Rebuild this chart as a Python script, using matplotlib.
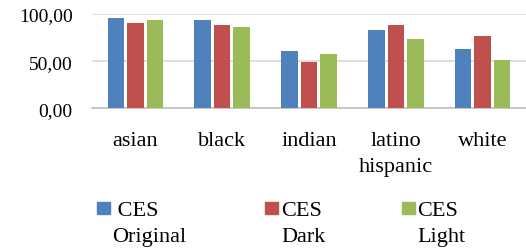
import numpy as np
import matplotlib
matplotlib.use('Agg')
import matplotlib.pyplot as plt
from matplotlib.patches import Rectangle

categories = ['asian', 'black', 'indian', 'latino\nhispanic', 'white']
series_names = [' CES\nOriginal', 'CES\nDark', 'CES\nLight']
ces_original = [95.4, 94.0, 60.4, 82.7, 63.2]
ces_dark = [90.8, 88.3, 48.8, 88.3, 77.0]
ces_light = [94.0, 85.9, 57.6, 73.5, 50.9]
yticks = [0, 50, 100]
ytick_labels = ['0,00', '50,00', '100,00']

colors = ['#4F81BD', '#C0504D', '#9BBB59']

plt.rcParams['font.family'] = ['Liberation Serif', 'DejaVu Serif']
plt.rcParams['font.size'] = 14

W, H = 526, 253
fig = plt.figure(figsize=(W / 100, H / 100), dpi=100)
ax = fig.add_axes([92 / W, 1 - 109.3 / H, 1 - 92 / W, 94.3 / H])

x = np.arange(len(categories))
width = 0.19
step = 0.225
for i, vals in enumerate([ces_original, ces_dark, ces_light]):
    ax.bar(x + (i - 1) * step, vals, width, color=colors[i], zorder=3)

ax.set_xlim(-0.5, len(categories) - 0.5)
ax.set_ylim(0, 100)
ax.set_yticks(yticks)
ax.set_yticklabels(ytick_labels)
ax.set_xticks(x)
ax.set_xticklabels(categories, linespacing=1.55, fontsize=16)
ax.tick_params(axis='y', length=0, pad=14)
ax.tick_params(axis='x', length=0, pad=16)
ax.grid(axis='y', color='#d9d9d9', linewidth=1.2, zorder=0)
for s in ['left', 'right', 'top']:
    ax.spines[s].set_visible(False)
ax.spines['bottom'].set_color('#bfbfbf')
ax.spines['bottom'].set_linewidth(1.2)

# legend drawn by hand so the square sits on the first text line
leg_x = [97, 265, 402]
leg_tx = [112, 281, 417]
for i, name in enumerate(series_names):
    fig.patches.append(Rectangle((leg_x[i] / W, 1 - 215 / H), 13 / W, 12 / H,
                                 transform=fig.transFigure, color=colors[i]))
    fig.text(leg_tx[i] / W, 1 - 202 / H, name, va='top', ha='left',
             fontsize=16, linespacing=1.5)

fig.savefig('out.png', dpi=100)
